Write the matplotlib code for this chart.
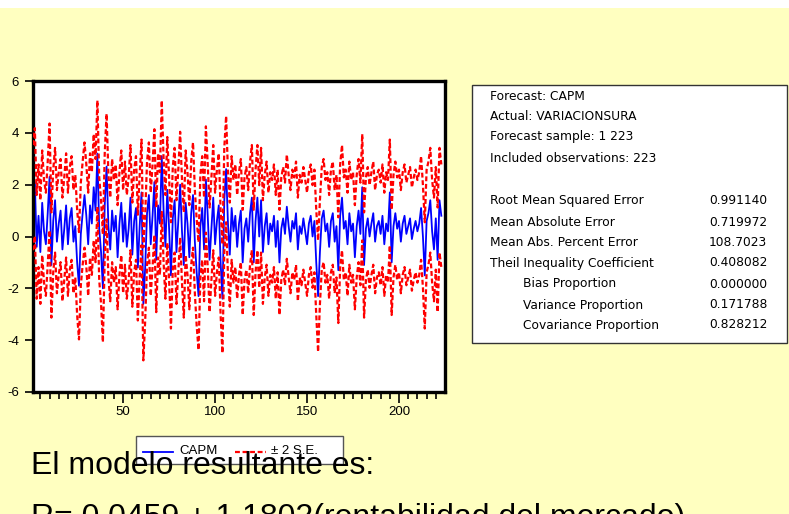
import matplotlib.pyplot as plt
import matplotlib.patches as mpatches
from matplotlib.lines import Line2D
import numpy as np

W, H = 789, 514
plt.rcParams['font.family'] = ['Liberation Sans', 'DejaVu Sans']
plt.rcParams['axes.unicode_minus'] = False

# Pronostico CAPM
capm = [
    1.5, 2.1, -0.4, 0.8, -0.6, 1.3, 0.2, -0.3, 0.9, 2.3,
    -1.1, 0.6, 1.4, -0.2, 0.5, 1.0, -0.5, 0.3, 1.2, -0.3,
    0.7, 1.1, -0.2, 0.4, -1.0, -1.9, 0.1, 0.9, 1.6, 0.8,
    -0.3, 1.2, 0.5, 1.9, 1.0, 3.2, 0.3, -0.6, -2.0, 1.2,
    2.7, 0.4, -0.5, 1.0, 0.2, 0.8, -0.8, 0.5, 1.3, -0.2,
    0.9, -0.4, 0.3, 1.5, -0.7, 0.6, 1.1, -1.2, 0.4, 1.7,
    -2.6, -1.2, 0.9, 1.6, -0.3, 0.8, 2.1, -0.9, 1.2, 0.5,
    3.1, 1.0, -0.4, 1.8, 0.3, -1.5, 0.7, 1.4, -0.6, 0.6,
    2.0, 0.2, -1.1, 1.3, 0.5, -0.8, 0.9, 1.6, -0.2, -1.4,
    -2.3, 0.4, 1.1, -0.5, 2.2, 0.8, -0.9, 0.3, 1.5, -0.3,
    0.6, 1.2, -1.0, -2.4, 1.4, 2.6, 0.5, -0.7, 1.1, 0.2,
    0.8, -0.4, 0.5, 1.0, -1.0, 0.3, 0.7, -0.2, 0.9, 1.5,
    -1.0, 0.6, 1.5, 0.0, 1.4, -0.6, 0.4, 0.9, -0.3, 0.5,
    0.2, 0.8, -0.4, 0.6, -1.0, 0.3, 0.7, 0.1, 1.15, 0.4,
    -0.2, 0.6, 0.3, 0.9, -0.5, 0.4, 0.1, 0.7, 0.2, -0.3,
    0.5, 0.8, 0.0, 0.6, -1.0, -2.3, -0.6, 0.7, 1.0, 0.2,
    0.5, -0.4, 0.6, 0.9, -0.2, 0.4, -1.3, 0.8, 1.5, 0.3,
    0.6, -0.3, 0.9, 0.2, 0.5, -0.8, 0.4, 1.0, 0.1, 1.9,
    -1.1, 0.3, 0.7, 0.0, 0.5, 0.9, -0.2, 0.4, 0.6, 0.1,
    0.8, -0.3, 0.5, 0.2, 1.7, -1.0, 0.4, 0.9, 0.3, 0.6,
    -0.2, 0.5, 0.8, 0.1, 0.4, 0.7, -0.1, 0.3, 0.6, 0.2,
    0.5, 1.1, 0.0, -1.5, 0.6, 0.9, 1.4, 0.2, -0.5, 0.7,
    -0.9, 1.4, 0.8,
]

# 2 * error estandar del pronostico
dos_se = [
    2.03, 2.08, 2.00, 1.98, 2.00, 2.02, 1.98, 1.99, 1.99, 2.06,
    2.03, 1.98, 2.02, 1.99, 1.98, 1.99, 2.00, 1.98, 2.01, 1.99,
    1.98, 2.00, 1.99, 1.98, 2.03, 2.07, 1.98, 1.99, 2.03, 1.98,
    1.99, 2.01, 1.98, 2.05, 1.99, 2.05, 1.98, 2.00, 2.08, 2.01,
    2.04, 1.98, 2.00, 1.99, 1.98, 1.98, 2.01, 1.98, 2.02, 1.99,
    1.99, 2.00, 1.98, 2.03, 2.01, 1.98, 2.00, 2.04, 1.98, 2.04,
    2.18, 2.04, 1.99, 2.03, 1.99, 1.98, 2.04, 2.02, 2.01, 1.98,
    2.15, 1.99, 2.00, 2.04, 1.98, 2.05, 1.98, 2.02, 2.00, 1.98,
    2.04, 1.98, 2.03, 2.02, 1.98, 2.01, 1.99, 2.03, 1.99, 2.05,
    2.08, 1.98, 2.00, 2.00, 2.05, 1.98, 2.02, 1.98, 2.03, 1.99,
    1.98, 2.01, 2.03, 2.10, 2.02, 2.05, 1.98, 2.01, 2.00, 1.98,
    1.98, 2.00, 1.98, 1.99, 2.03, 1.98, 1.98, 1.99, 1.99, 2.03,
    2.03, 1.98, 2.03, 1.98, 2.02, 2.00, 1.98, 1.99, 1.99, 1.98,
    1.98, 1.98, 2.00, 1.98, 2.03, 1.98, 1.98, 1.98, 2.01, 1.98,
    1.99, 1.98, 1.98, 1.99, 2.00, 1.98, 1.98, 1.98, 1.98, 1.99,
    1.98, 1.98, 1.98, 1.98, 2.03, 2.15, 2.00, 1.98, 1.99, 1.98,
    1.98, 2.00, 1.98, 1.99, 1.99, 1.98, 2.04, 1.98, 2.03, 1.98,
    1.98, 1.99, 1.99, 1.98, 1.98, 2.01, 1.98, 1.99, 1.98, 2.05,
    2.03, 1.98, 1.98, 1.98, 1.98, 1.99, 1.99, 1.98, 1.98, 1.98,
    1.98, 1.99, 1.98, 1.98, 2.04, 2.03, 1.98, 1.99, 1.98, 1.98,
    1.99, 1.98, 1.98, 1.98, 1.98, 1.98, 1.99, 1.98, 1.98, 1.98,
    1.98, 2.00, 1.98, 2.05, 1.98, 1.99, 2.02, 1.98, 2.00, 1.98,
    2.02, 2.02, 1.98,
]

etiquetas = [
    "Root Mean Squared Error",
    "Mean Absolute Error",
    "Mean Abs. Percent Error",
    "Theil Inequality Coefficient",
    "     Bias Proportion",
    "     Variance Proportion",
    "     Covariance Proportion",
]
valores = ["0.991140", "0.719972", "108.7023", "0.408082",
           "0.000000", "0.171788", "0.828212"]
encabezado = [
    "Forecast: CAPM",
    "Actual: VARIACIONSURA",
    "Forecast sample: 1 223",
    "Included observations: 223",
]

obs = np.arange(1, len(capm) + 1)
capm = np.array(capm)
dos_se = np.array(dos_se)
superior = capm + dos_se
inferior = capm - dos_se


def fx(x):
    return x / W


def fy(y):
    return 1 - y / H


fig = plt.figure(figsize=(W / 100, H / 100), dpi=100)
fig.patch.set_facecolor('#FFFFC0')

# franjas blancas del borde de la diapositiva
fig.patches.append(mpatches.Rectangle((0, fy(8)), 1, 8 / H, transform=fig.transFigure,
                                      facecolor='white', edgecolor='none', zorder=0))

ax = fig.add_axes([fx(33), fy(392), (445 - 33) / W, (392 - 81) / H])
ax.set_facecolor('white')
ax.plot(obs, capm, color='#0000FF', linewidth=1.3, zorder=2)
ax.plot(obs, superior, color='#FF0000', linewidth=1.6, linestyle=(0, (2.2, 1.2)), zorder=3)
ax.plot(obs, inferior, color='#FF0000', linewidth=1.6, linestyle=(0, (2.2, 1.2)), zorder=3)

ax.set_xlim(1, 225)
ax.set_ylim(-6, 6)
ax.set_yticks([-6, -4, -2, 0, 2, 4, 6])
ax.set_xticks([50, 100, 150, 200])
ax.set_xticks([m for m in range(5, 225, 5) if m % 50 != 0], minor=True)
ax.tick_params(axis='x', which='major', direction='out', length=8, width=1.2,
               labelsize=9.5, pad=2)
ax.tick_params(axis='x', which='minor', direction='out', length=5, width=1.2)
ax.tick_params(axis='y', which='major', direction='out', length=6, width=1.2,
               labelsize=9.5, pad=4)
for s in ax.spines.values():
    s.set_linewidth(2.4)
    s.set_color('black')

# cuadro de estadisticas
fig.patches.append(mpatches.Rectangle((fx(472), fy(343)), (787 - 472) / W, (343 - 85) / H,
                                      transform=fig.transFigure, facecolor='white',
                                      edgecolor='#333333', linewidth=1.0, zorder=1))
ys_enc = [97, 117, 137, 158]
for t, y in zip(encabezado, ys_enc):
    fig.text(fx(490), fy(y), t, fontsize=8.8, family='DejaVu Sans', va='center', zorder=2)
ys_est = [201, 222, 242, 263, 284, 305, 325]
for t, v, y in zip(etiquetas, valores, ys_est):
    xl = 490
    if t.startswith(" "):
        xl = 523
        t = t.strip()
    fig.text(fx(xl), fy(y), t, fontsize=8.8, family='DejaVu Sans', va='center', zorder=2)
    fig.text(fx(709), fy(y), v, fontsize=8.8, family='DejaVu Sans', va='center', zorder=2)

# leyenda
fig.patches.append(mpatches.Rectangle((fx(136), fy(464)), (343 - 136) / W, (464 - 436) / H,
                                      transform=fig.transFigure, facecolor='white',
                                      edgecolor='#555555', linewidth=1.0, zorder=1))
fig.lines.append(Line2D([fx(143), fx(173)], [fy(452), fy(452)], transform=fig.transFigure,
                        color='#0000FF', linewidth=1.3, zorder=2))
fig.lines.append(Line2D([fx(235), fx(266)], [fy(452), fy(452)], transform=fig.transFigure,
                        color='#FF0000', linewidth=1.6, linestyle=(0, (2.2, 1.2)), zorder=2))
fig.text(fx(179), fy(451), "CAPM", fontsize=9.5, va='center', zorder=3)
fig.text(fx(271), fy(451), "\u00b1 2 S.E.", fontsize=9.5, va='center', zorder=3)

# texto de la diapositiva
fig.text(fx(31), fy(474), "El modelo resultante es:", fontsize=23, va='baseline',
         color='black', zorder=5)
fig.text(fx(31), fy(526), "R= 0.0459 + 1.1802(rentabilidad del mercado)", fontsize=23,
         va='baseline', color='black', zorder=5)

fig.savefig('out.png', dpi=100, facecolor=fig.get_facecolor())
